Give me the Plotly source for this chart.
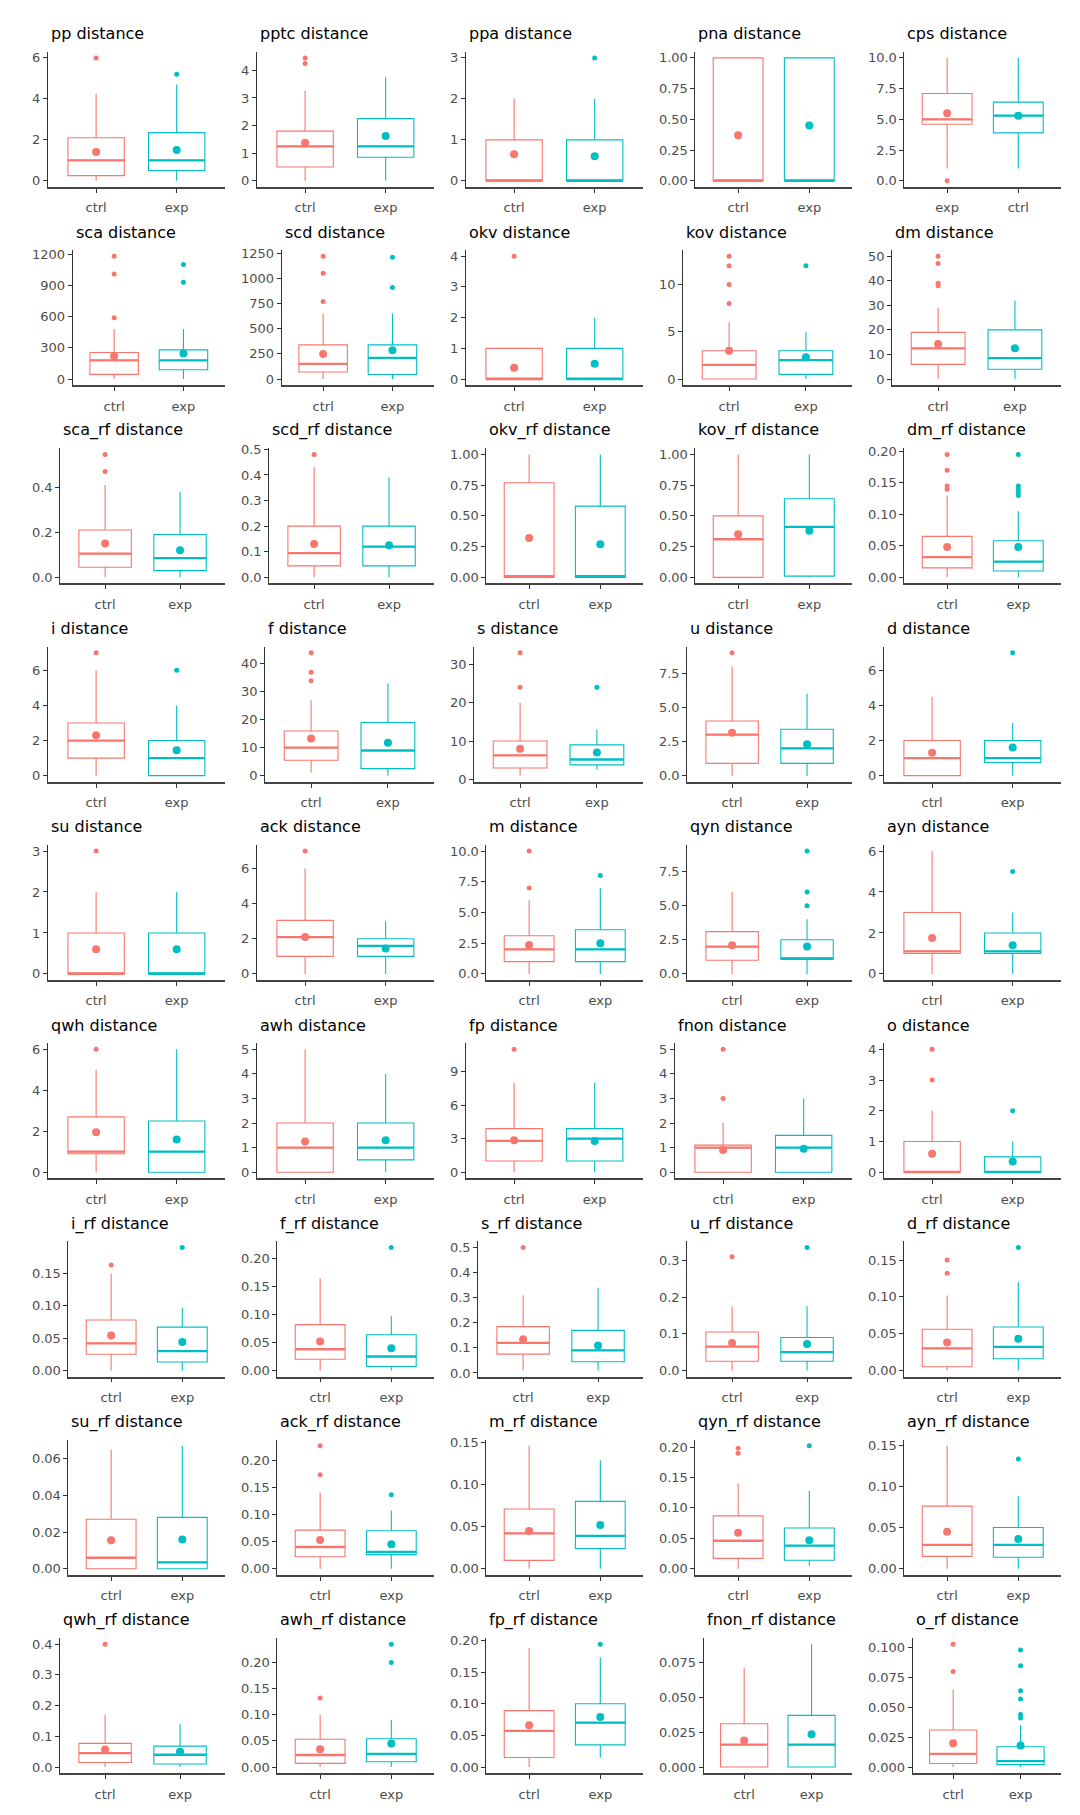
import plotly.graph_objects as go

# panel titles, row by row (5 per row)
titles = ["pp", "pptc", "ppa", "pna", "cps",
          "sca", "scd", "okv", "kov", "dm",
          "sca_rf", "scd_rf", "okv_rf", "kov_rf", "dm_rf",
          "i", "f", "s", "u", "d",
          "su", "ack", "m", "qyn", "ayn",
          "qwh", "awh", "fp", "fnon", "o",
          "i_rf", "f_rf", "s_rf", "u_rf", "d_rf",
          "su_rf", "ack_rf", "m_rf", "qyn_rf", "ayn_rf",
          "qwh_rf", "awh_rf", "fp_rf", "fnon_rf", "o_rf"]

# x labels of each panel (cps has the groups swapped)
group_labels = [["ctrl", "exp"]] * 45
group_labels[4] = ["exp", "ctrl"]

# first box of every panel
q1_a = [0.25, 0.5, 0, 0, 4.6,
        45, 70, 0, 0, 6,
        0.045, 0.045, 0, 0, 0.015,
        1, 5.5, 3, 0.9, 0,
        0, 1, 1, 1, 1,
        0.9, 0, 1, 0, 0,
        0.025, 0.02, 0.075, 0.025, 0.005,
        0, 0.022, 0.01, 0.017, 0.015,
        0.015, 0.007, 0.015, 0, 0.003]
med_a = [1.0, 1.25, 0, 0, 5.0,
         180, 150, 0, 1.5, 12.5,
         0.105, 0.095, 0.01, 0.31, 0.032,
         2, 10, 6.3, 3, 1,
         0, 2.1, 2, 2, 1.1,
         1, 1, 2.8, 1, 0,
         0.042, 0.038, 0.12, 0.065, 0.03,
         0.006, 0.04, 0.042, 0.046, 0.029,
         0.045, 0.023, 0.057, 0.016, 0.011]
q3_a = [2.1, 1.8, 1, 1, 7.1,
        255, 340, 1, 3, 19,
        0.21, 0.2, 0.77, 0.5, 0.065,
        3, 16, 10, 4, 2,
        1, 3.05, 3.1, 3.1, 3,
        2.7, 2, 3.9, 1.1, 1,
        0.078, 0.082, 0.185, 0.105, 0.056,
        0.027, 0.071, 0.071, 0.087, 0.076,
        0.077, 0.053, 0.089, 0.031, 0.031]
lo_a = [0, 0, 0, 0, 1,
        0, 0, 0, 0, 0,
        0, 0, 0, 0, 0,
        0, 1, 1, 0, 0,
        0, 0, 0, 0, 0,
        0, 0, 0, 0, 0,
        0, 0, 0.01, 0, 0,
        0, 0, 0, 0, 0,
        0, 0, 0, 0, 0]
hi_a = [4.25, 3.25, 2, 1, 10,
        480, 650, 1, 6, 29,
        0.41, 0.43, 1.0, 1.0, 0.13,
        6, 27, 20, 8, 4.5,
        2, 6, 6, 6, 6,
        5, 5, 8, 2, 2,
        0.15, 0.165, 0.31, 0.175, 0.102,
        0.065, 0.14, 0.146, 0.14, 0.149,
        0.17, 0.1, 0.188, 0.071, 0.065]
mean_a = [1.4, 1.38, 0.65, 0.37, 5.5,
          220, 250, 0.37, 3, 14.3,
          0.15, 0.13, 0.32, 0.35, 0.048,
          2.3, 13.3, 8, 3.15, 1.3,
          0.6, 2.1, 2.35, 2.1, 1.75,
          1.95, 1.25, 2.85, 0.9, 0.6,
          0.054, 0.052, 0.135, 0.075, 0.038,
          0.0155, 0.053, 0.045, 0.059, 0.045,
          0.057, 0.034, 0.066, 0.019, 0.02]
out_a = [[6], [4.25, 4.45], [], [], [0],
         [590, 1010, 1180], [770, 1050, 1220], [4], [8, 10, 12, 13], [38, 39, 47, 50],
         [0.47, 0.545], [0.48], [], [], [0.14, 0.145, 0.17, 0.195],
         [7], [34, 37, 44], [24, 33], [9], [],
         [3], [7], [7, 10], [], [],
         [6], [], [11], [3, 5], [3, 4],
         [0.163], [], [0.5], [0.31], [0.132, 0.15],
         [], [0.173, 0.226], [], [0.19, 0.198], [],
         [0.4], [0.132], [], [], [0.08, 0.103]]

# second box of every panel
q1_b = [0.5, 0.85, 0, 0, 3.9,
        90, 45, 0, 0.5, 4,
        0.03, 0.045, 0, 0.01, 0.01,
        0, 2.5, 3.8, 0.9, 0.75,
        0, 1, 1, 1.1, 1,
        0, 0.5, 1, 0, 0,
        0.013, 0.007, 0.045, 0.025, 0.016,
        0, 0.026, 0.024, 0.014, 0.014,
        0.01, 0.01, 0.035, 0, 0.002]
med_b = [1, 1.25, 0, 0, 5.3,
         180, 210, 0, 2, 8.5,
         0.085, 0.12, 0.01, 0.41, 0.025,
         1, 9, 5.2, 2, 1,
         0, 1.6, 2, 1.1, 1.1,
         1, 1, 3, 1, 0,
         0.03, 0.025, 0.09, 0.05, 0.032,
         0.0035, 0.031, 0.039, 0.038, 0.029,
         0.04, 0.025, 0.07, 0.016, 0.005]
q3_b = [2.35, 2.25, 1, 1, 6.4,
        280, 340, 1, 3, 20,
        0.19, 0.2, 0.58, 0.64, 0.058,
        2, 19, 9, 3.4, 2,
        1, 2, 3.6, 2.5, 2,
        2.5, 2, 3.9, 1.5, 0.5,
        0.067, 0.064, 0.17, 0.09, 0.059,
        0.028, 0.07, 0.08, 0.067, 0.05,
        0.068, 0.054, 0.1, 0.037, 0.017]
lo_b = [0, 0, 0, 0, 1,
        0, 0, 0, 0, 0,
        0, 0, 0, 0, 0,
        0, 0, 2.5, 0, 0,
        0, 0, 0, 0, 0,
        0, 0, 0, 0, 0,
        0, 0, 0.01, 0, 0,
        0, 0, 0, 0.005, 0,
        0, 0, 0.015, 0, 0]
hi_b = [4.7, 3.75, 2, 1, 10,
        480, 650, 2, 5, 32,
        0.38, 0.39, 1.0, 1.0, 0.105,
        4, 33, 13, 6, 3,
        2, 3, 7, 4, 3,
        6, 4, 8, 3, 1,
        0.097, 0.097, 0.34, 0.175, 0.12,
        0.067, 0.107, 0.129, 0.128, 0.088,
        0.14, 0.09, 0.173, 0.088, 0.035]
mean_b = [1.5, 1.62, 0.6, 0.45, 5.3,
          245, 285, 0.5, 2.3, 12.5,
          0.12, 0.125, 0.27, 0.38, 0.048,
          1.45, 11.8, 7, 2.3, 1.6,
          0.6, 1.45, 2.5, 2.0, 1.4,
          1.6, 1.3, 2.8, 0.95, 0.35,
          0.044, 0.04, 0.11, 0.072, 0.043,
          0.016, 0.045, 0.052, 0.047, 0.036,
          0.05, 0.045, 0.079, 0.0235, 0.018]
out_b = [[5.2], [], [3], [], [],
         [930, 1100], [910, 1210], [], [12], [],
         [], [], [], [], [0.13, 0.135, 0.14, 0.145, 0.195],
         [6], [], [24], [], [7],
         [], [], [8], [5, 6, 9], [5],
         [], [], [], [], [2],
         [0.19], [0.22], [], [0.335], [0.167],
         [], [0.136], [], [0.202], [0.133],
         [], [0.2, 0.235], [0.194], [], [0.041, 0.044, 0.057, 0.064, 0.085, 0.098]]

# y tick labels per panel
y_ticks = ["0 2 4 6", "0 1 2 3 4", "0 1 2 3", "0.00 0.25 0.50 0.75 1.00", "0.0 2.5 5.0 7.5 10.0",
           "0 300 600 900 1200", "0 250 500 750 1000 1250", "0 1 2 3 4", "0 5 10", "0 10 20 30 40 50",
           "0.0 0.2 0.4", "0.0 0.1 0.2 0.3 0.4 0.5", "0.00 0.25 0.50 0.75 1.00",
           "0.00 0.25 0.50 0.75 1.00", "0.00 0.05 0.10 0.15 0.20",
           "0 2 4 6", "0 10 20 30 40", "0 10 20 30", "0.0 2.5 5.0 7.5", "0 2 4 6",
           "0 1 2 3", "0 2 4 6", "0.0 2.5 5.0 7.5 10.0", "0.0 2.5 5.0 7.5", "0 2 4 6",
           "0 2 4 6", "0 1 2 3 4 5", "0 3 6 9", "0 1 2 3 4 5", "0 1 2 3 4",
           "0.00 0.05 0.10 0.15", "0.00 0.05 0.10 0.15 0.20", "0.0 0.1 0.2 0.3 0.4 0.5",
           "0.0 0.1 0.2 0.3", "0.00 0.05 0.10 0.15",
           "0.00 0.02 0.04 0.06", "0.00 0.05 0.10 0.15 0.20", "0.00 0.05 0.10 0.15",
           "0.00 0.05 0.10 0.15 0.20", "0.00 0.05 0.10 0.15",
           "0.0 0.1 0.2 0.3 0.4", "0.00 0.05 0.10 0.15 0.20", "0.00 0.05 0.10 0.15 0.20",
           "0.000 0.025 0.050 0.075", "0.000 0.025 0.050 0.075 0.100"]

colors = ["#F8766D", "#00BFC4"]
OFF = 8                      # default page margin of the html body
W, H = 1080 - 2 * OFF, 1815 - 2 * OFF
FONT = "DejaVu Sans"
BOX_W = 0.70
ROW_STEP = 199.5
COL_STEP = 209


def text_px(s, size=13):
    # rough DejaVu Sans advance widths
    return sum((0.318 if ch == "." else 0.636) * size for ch in s)


fig = go.Figure()
annotations = []
axes = {}

for k, name in enumerate(titles):
    row, col = divmod(k, 5)
    ax = "" if k == 0 else str(k + 1)
    groups = [
        (q1_a[k], med_a[k], q3_a[k], lo_a[k], hi_a[k], mean_a[k], out_a[k]),
        (q1_b[k], med_b[k], q3_b[k], lo_b[k], hi_b[k], mean_b[k], out_b[k]),
    ]
    for g, (q1, med, q3, lo, hi, mu, outs) in enumerate(groups):
        pos = g + 1
        c = colors[g]
        fig.add_trace(go.Box(
            x=[pos], q1=[q1], median=[med], q3=[q3],
            lowerfence=[lo], upperfence=[hi],
            width=BOX_W, whiskerwidth=0, boxpoints=False,
            line=dict(color=c, width=1.1), fillcolor="rgba(255,255,255,0)",
            xaxis="x" + ax, yaxis="y" + ax, hoverinfo="skip", showlegend=False))
        fig.add_trace(go.Scatter(
            x=[pos - BOX_W / 2, pos + BOX_W / 2], y=[med, med], mode="lines",
            line=dict(color=c, width=2.3),
            xaxis="x" + ax, yaxis="y" + ax, hoverinfo="skip", showlegend=False))
        if outs:
            fig.add_trace(go.Scatter(
                x=[pos] * len(outs), y=outs, mode="markers",
                marker=dict(color=c, size=5),
                xaxis="x" + ax, yaxis="y" + ax, hoverinfo="skip", showlegend=False))
        fig.add_trace(go.Scatter(
            x=[pos], y=[mu], mode="markers", marker=dict(color=c, size=8),
            xaxis="x" + ax, yaxis="y" + ax, hoverinfo="skip", showlegend=False))

    # y range with ggplot-like 5% expansion
    vals = []
    for q1, med, q3, lo, hi, mu, outs in groups:
        vals += [q1, med, q3, lo, hi, mu] + list(outs)
    vmin, vmax = min(vals), max(vals)
    pad = 0.05 * (vmax - vmin)
    ticks = y_ticks[k].split()

    # page pixel positions, then shifted by the body margin
    left = 18 + COL_STEP * col + 21.5 + max(text_px(t) for t in ticks) - OFF
    right = 225 + COL_STEP * col - OFF
    top = 46 + ROW_STEP * row - OFF
    bottom = 182 + ROW_STEP * row - OFF

    axes["xaxis" + ax] = dict(
        domain=[left / W, right / W], anchor="y" + ax, range=[0.4, 2.6],
        tickvals=[1, 2], ticktext=group_labels[k],
        showline=True, linecolor="#444444", linewidth=1.6,
        ticks="outside", ticklen=4, tickcolor="#333333", ticklabelstandoff=4,
        showgrid=False, zeroline=False, fixedrange=True,
        tickfont=dict(family=FONT, size=13, color="#4D4D4D"))
    axes["yaxis" + ax] = dict(
        domain=[1 - bottom / H, 1 - top / H], anchor="x" + ax,
        range=[vmin - pad, vmax + pad],
        tickvals=[float(t) for t in ticks], ticktext=ticks,
        showline=True, linecolor="#333333", linewidth=1,
        ticks="outside", ticklen=4, tickcolor="#333333",
        showgrid=False, zeroline=False, fixedrange=True,
        tickfont=dict(family=FONT, size=13, color="#4D4D4D"))
    annotations.append(dict(
        text=name + " distance", xref="paper", yref="paper",
        x=(left + 1) / W, y=1 - (28 + ROW_STEP * row - OFF) / H,
        xanchor="left", yanchor="middle", showarrow=False,
        font=dict(family=FONT, size=16, color="black")))

fig.update_layout(
    width=W, height=H, margin=dict(l=0, r=0, t=0, b=0),
    plot_bgcolor="white", paper_bgcolor="white",
    annotations=annotations, **axes)

fig.write_html("out.html")
